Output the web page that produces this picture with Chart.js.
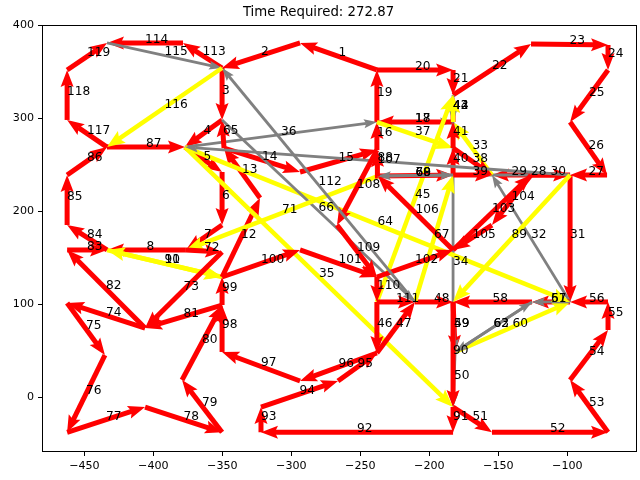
<!DOCTYPE html>
<html><head><meta charset="utf-8">
<script src="https://cdn.jsdelivr.net/npm/chart.js@4"></script>
<style>html,body{margin:0;padding:0;background:#fff}</style>
</head><body>
<canvas id="c" width="640" height="480"></canvas>
<script>
// node coordinates (data units)
const nodeX = [-238.0,-293.7,-350.2,-378.5,-433.6,-462.5,-462.5,-433.6,-377.1,-350.2,
  -348.8,-350.2,-350.2,-376.4,-350.2,-433.6,-350.2,-322.7,-293.7,-238.0,
  -237.3,-238.0,-182.8,-182.8,-182.8,-126.3,-70.5,-70.5,-98.0,-71.2,
  -98.0,-126.3,-154.6,-182.8,-182.8,-98.0,-125.6,-182.8,-210.4,-238.0,
  -181.3,-182.8,-182.8,-154.6,-70.5,-98.0,-70.5,-70.5,-322.0,-322.0,
  -266.2,-238.0,-293.7,-350.2,-350.2,-293.7,-238.0,-182.8,-154.6,-266.9,
  -406.0,-462.5,-462.5,-462.5,-462.5,-435.1,-462.5,-406.0,-350.2,-379.2];
const nodeY = [351.8,380.8,353.9,380.8,380.8,351.8,298.1,269.0,269.0,298.1,
  267.9,242.2,185.3,158.5,156.3,158.5,129.5,214.3,242.2,265.8,
  237.9,295.9,295.9,324.9,351.8,379.7,378.6,351.8,295.9,239.0,
  239.0,239.0,239.0,239.0,267.9,102.7,102.7,102.7,102.7,102.7,
  49.0,-10.1,-37.2,-37.2,-37.2,18.9,72.6,102.7,-37.2,-10.1,
  17.8,47.9,17.8,49.0,99.4,158.5,129.5,158.5,185.3,185.3,
  74.7,158.5,185.3,239.0,101.6,45.7,-37.2,-10.1,-37.2,18.9];

const edgeLabels = [1,2,3,4,5,6,7,8,9,10,11,12,13,14,15,16,17,18,19,20,
  21,22,23,24,25,26,27,28,29,30,31,32,33,34,35,36,37,38,39,40,
  41,42,43,44,45,46,47,48,49,50,51,52,53,54,55,56,57,58,59,60,
  61,62,63,64,65,66,67,68,69,70,71,72,73,74,75,76,77,78,79,80,
  81,82,83,84,85,86,87,88,89,90,91,92,93,94,95,96,97,98,99,100,
  101,102,103,104,105,106,107,108,109,110,111,112,113,114,115,116,117,118,119];
const edgeFrom = [0,1,2,9,8,11,12,13,15,16, 15,16,17,10,18,19,21,22,21,0,
  24,23,25,26,27,28,29,30,33,31, 30,35,32,22,8,8,21,34,33,33,
  34,22,23,22,39,39,51,38,37,40, 41,43,44,45,46,47,35,36,37,40,
  35,40,36,8,10,9,38,20,33,20, 20,13,14,60,64,65,66,67,68,69,
  54,60,61,15,62,63,7,30,30,37, 41,42,48,49,50,51,52,53,54,16,
  55,56,57,31,58,57,20,19,59,56, 39,38,2,3,4,2,7,6,5];
const edgeTo = [1,2,9,8,11,12,13,15,16,15, 16,17,10,18,19,21,22,21,0,24,
  23,25,26,27,28,29,30,32,30,30, 35,32,22,41,41,21,34,32,32,34,
  22,23,22,23,23,51,38,37,40,41, 43,44,45,46,47,35,36,37,40,35,
  36,36,40,35,9,38,33,33,20,33, 13,14,60,64,65,66,67,68,69,54,
  60,61,15,62,63,7,8,8,37,41, 42,48,49,50,51,52,53,54,16,55,
  56,57,31,58,57,20,19,59,56,39, 38,2,3,4,2,7,6,5,4];
// R = truck (red), G = gray, Y = yellow
const edgeKind = ("RRRRRRRRGY" + "YRRRRRGRRR" + "RRRRRRRRGR" + "RGYGYGYRRR" +
  "RRGYYRRRRG" + "RRRRRRRRGY" + "GGGYRGYRGG" + "YRRRRRRRRR" + "RRRRRRRGYR" +
  "RRRRRRRRRR" + "RRRRRRRRRR" + "RGRRGYRRR").split('');

const xTicks = [-450,-400,-350,-300,-250,-200,-150,-100];
const yTicks = [0,100,200,300,400];
const titleText = 'Time Required: 272.87';

const kindStyle = {
  R: {color:'#ff0000', width:5, headLen:17, headW:13},
  G: {color:'#808080', width:2.8, headLen:13, headW:9},
  Y: {color:'#ffff00', width:4.5, headLen:18, headW:14}
};
const FONT = "'DejaVu Sans', sans-serif";

const datasets = edgeLabels.map((lab, i) => {
  const st = kindStyle[edgeKind[i]];
  return {
    label: String(lab),
    data: [{x: nodeX[edgeFrom[i]], y: nodeY[edgeFrom[i]]}, {x: nodeX[edgeTo[i]], y: nodeY[edgeTo[i]]}],
    showLine: true,
    borderColor: st.color,
    backgroundColor: st.color,
    borderWidth: st.width,
    borderCapStyle: 'butt',
    pointRadius: 0,
    pointHoverRadius: 0,
    order: 1000 - i,
    kind: edgeKind[i]
  };
});

const arrowPlugin = {
  id: 'arrows',
  afterDatasetsUpdate(chart) {
    chart.data.datasets.forEach((ds, i) => {
      const meta = chart.getDatasetMeta(i);
      const p0 = meta.data[0], p1 = meta.data[1];
      if (!p0 || !p1) return;
      const st = kindStyle[ds.kind];
      const tx = p1.x, ty = p1.y, sx = p0.x, sy = p0.y;
      const dx = tx - sx, dy = ty - sy;
      const L = Math.hypot(dx, dy) || 1;
      const ux = dx / L, uy = dy / L;
      meta._arrow = {tx, ty, ux, uy};
      const back = Math.min(st.headLen * 0.8, L);
      p1.x = tx - ux * back;
      p1.y = ty - uy * back;
    });
  },
  afterDatasetDraw(chart, args) {
    const meta = args.meta;
    const a = meta._arrow;
    if (!a) return;
    const ds = chart.data.datasets[args.index];
    const st = kindStyle[ds.kind];
    const ctx = chart.ctx;
    const nx = -a.uy, ny = a.ux;
    const bx = a.tx - a.ux * st.headLen, by = a.ty - a.uy * st.headLen;
    const kx = a.tx - a.ux * st.headLen * 0.82, ky = a.ty - a.uy * st.headLen * 0.82;
    ctx.save();
    ctx.fillStyle = st.color;
    ctx.beginPath();
    ctx.moveTo(a.tx, a.ty);
    ctx.lineTo(bx + nx * st.headW / 2, by + ny * st.headW / 2);
    ctx.lineTo(kx, ky);
    ctx.lineTo(bx - nx * st.headW / 2, by - ny * st.headW / 2);
    ctx.closePath();
    ctx.fill();
    ctx.restore();
  },
  afterDatasetsDraw(chart) {
    const ctx = chart.ctx;
    const area = chart.chartArea;
    const xs = chart.scales.x, ys = chart.scales.y;
    ctx.save();
    ctx.strokeStyle = '#000';
    ctx.lineWidth = 1;
    ctx.strokeRect(Math.round(area.left) + 0.5, Math.round(area.top) + 0.5,
      Math.round(area.right - area.left) - 1, Math.round(area.bottom - area.top) - 1);
    ctx.fillStyle = '#000';
    ctx.font = '12.2px ' + FONT;
    ctx.textAlign = 'left';
    ctx.textBaseline = 'alphabetic';
    edgeLabels.forEach((lab, i) => {
      const mx = (xs.getPixelForValue(nodeX[edgeFrom[i]]) + xs.getPixelForValue(nodeX[edgeTo[i]])) / 2;
      const my = (ys.getPixelForValue(nodeY[edgeFrom[i]]) + ys.getPixelForValue(nodeY[edgeTo[i]])) / 2;
      ctx.fillText(String(lab), mx, my);
    });
    ctx.restore();
  }
};

const fmt = v => (v < 0 ? '\u2212' + Math.abs(v) : String(v));

new Chart(document.getElementById('c'), {
  type: 'scatter',
  data: {datasets},
  options: {
    responsive: false,
    animation: false,
    devicePixelRatio: 1,
    events: [],
    layout: {padding: {left: 0, right: 3, top: 0, bottom: 0}},
    plugins: {
      legend: {display: false},
      tooltip: {enabled: false},
      title: {display: true, text: titleText, color: '#000',
        font: {family: FONT, size: 13.3, weight: 'normal', lineHeight: 1.2},
        padding: {top: 5, bottom: 4}}
    },
    scales: {
      x: {
        type: 'linear', min: -480.7, max: -49.5,
        afterBuildTicks: s => { s.ticks = xTicks.map(v => ({value: v})); },
        afterFit: s => { s.height = 28; },
        ticks: {color: '#000', font: {family: FONT, size: 11.1}, padding: 3, maxRotation: 0, autoSkip: false, callback: v => fmt(v)},
        grid: {display: true, drawOnChartArea: false, drawTicks: true, tickLength: 4, color: '#000', lineWidth: 1},
        border: {display: false}
      },
      y: {
        type: 'linear', min: -58.4, max: 400.1,
        afterBuildTicks: s => { s.ticks = yTicks.map(v => ({value: v})); },
        afterFit: s => { s.width = 42; },
        ticks: {color: '#000', font: {family: FONT, size: 11.1}, padding: 4, autoSkip: false, callback: v => fmt(v)},
        grid: {display: true, drawOnChartArea: false, drawTicks: true, tickLength: 4, color: '#000', lineWidth: 1},
        border: {display: false}
      }
    }
  },
  plugins: [arrowPlugin]
});
</script>
</body></html>
